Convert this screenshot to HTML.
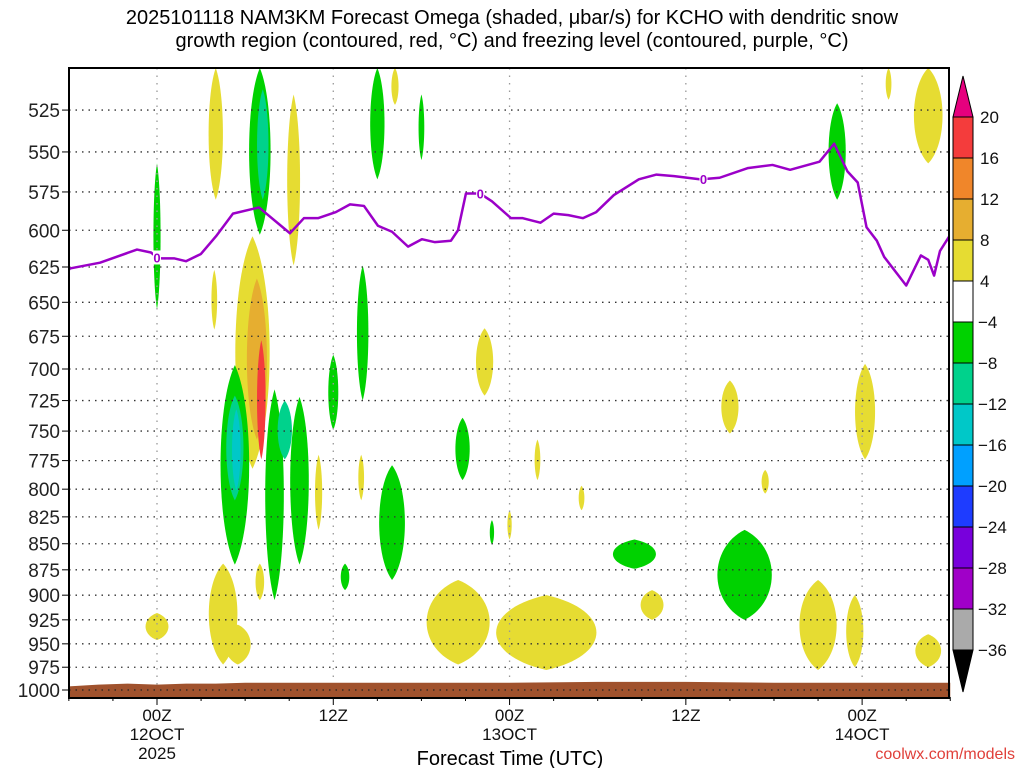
<!DOCTYPE html>
<html><head><meta charset="utf-8"><style>
html,body{margin:0;padding:0;background:#fff;width:1024px;height:768px;overflow:hidden}
svg{display:block;font-family:"Liberation Sans",sans-serif}
</style></head><body>
<svg id="chart" width="1024" height="768" viewBox="0 0 1024 768">
<text x="512" y="24" font-size="20" text-anchor="middle">2025101118 NAM3KM Forecast Omega (shaded, μbar/s) for KCHO with dendritic snow</text>
<text x="512" y="47" font-size="20" text-anchor="middle">growth region (contoured, red, °C) and freezing level (contoured, purple, °C)</text>
<g id="shading"></g>
<g id="grid"></g>
<g id="terrain"></g>
<g id="fzl"></g>
<rect x="69" y="68" width="880" height="630" fill="none" stroke="#000" stroke-width="2"/>
<g id="yaxis"></g>
<g id="xaxis"></g>
<text x="510" y="765" font-size="20" text-anchor="middle">Forecast Time (UTC)</text>
<text x="1015" y="759" font-size="16" fill="#e0403a" text-anchor="end">coolwx.com/models</text>
<g id="cbar"></g>
</svg>
<script>
const NS="http://www.w3.org/2000/svg";
const pressureTicks=[525,550,575,600,625,650,675,700,725,750,775,800,825,850,875,900,925,950,975,1000];
const timeTickHours=[0,12,24,36,48];
const timeTickLabels=[["00Z","12OCT","2025"],["12Z"],["00Z","13OCT"],["12Z"],["00Z","14OCT"]];
const fzlHours=[-6,-5.92,-3.88,-1.36,-0.41,0.07,1.16,1.97,2.99,4.02,5.17,6.94,9.05,10.0,10.96,12.18,13.14,14.09,15.04,16.0,17.09,18.03,18.92,20.01,20.49,21.03,21.99,22.8,24.1,24.9,26.1,27.0,28.0,29.0,29.9,31.1,32.8,34.0,35.2,37.0,38.3,40.2,41.9,43.1,45.1,46.1,47.0,47.7,48.3,49.0,49.5,51.0,52.0,52.5,52.9,53.3,54];
const fzlPress=[627,626,622,613,615,619,619,621,616,604,589,585,602,592,592,588,583,584,597,601,611,606,608,607,600,576,576,581,592,592,595,589,590,592,588,577,567,564,565,567,566,560,558,561,556,545,562,569,598,607,618,638,617,620,631,614,603];
const fzlLabelHours=[0,22,37.2];
const terrainHours=[-6,-4,-2,0,2,4,6,12,24,30,36,42,48,54];
const terrainPress=[996,994,993,994,993,993,992,992,992,991,991,992,992,992];
// omega blobs: center hour, top pressure, bottom pressure, half-width (h), value class
const blobHour=[0,4,7,7.2,9.3,3.9,6.5,6.8,7.1,5.3,5.3,5.4,8.0,9.7,8.7,7.0,4.5,5.5,12,14,15,16.2,18,11,13.9,16,12.8,20.8,22.3,25.9,22.8,24,28.9,32.5,33.7,39,41.4,40,46.3,48.2,52.5,49.8,20.5,26.5,45,47.5,52.5,0,54];
const blobTop=[557,501,501,513,516,627,604,633,678,697,721,732,716,722,725,869,869,930,689,624,501,501,516,770,770,779,869,739,669,757,828,819,797,846,895,709,783,837,521,696,501,501,885,900,885,900,940,918,780];
const blobBot=[655,580,603,580,624,670,782,757,774,870,810,801,905,870,774,905,972,972,749,725,567,522,555,837,810,885,895,792,721,792,851,846,819,874,925,752,804,925,580,774,557,519,972,978,978,975,975,946,805];
const blobHalf=[0.25,0.5,0.75,0.4,0.45,0.2,1.2,0.7,0.3,1.0,0.6,0.3,0.65,0.65,0.5,0.3,1.0,0.9,0.35,0.4,0.5,0.25,0.2,0.25,0.2,0.9,0.3,0.5,0.6,0.2,0.15,0.15,0.2,1.5,0.8,0.6,0.25,1.9,0.6,0.7,1.0,0.2,2.2,3.5,1.3,0.6,0.9,0.8,0.15];
const blobValue=[-6,6,-6,-10,6,6,6,10,18,-6,-10,-14,-6,-6,-10,6,6,6,-6,-6,-6,6,-6,6,6,-6,-6,-6,6,6,-6,6,6,-6,6,6,6,-6,-6,6,6,6,6,6,6,6,6,6,-6];
const cbarLevels=[20,16,12,8,4,-4,-8,-12,-16,-20,-24,-28,-32,-36];
const cbarColors=["#f43c3c","#f0862a","#e6ae30","#e6dc32","#ffffff","#00d200","#00d28c","#00c8c8","#00a0ff","#1e3cff","#7800dc","#a000c8","#aaaaaa"];

const X=h=>157+h*14.69, Y=p=>690-900*Math.log(1000/p);
function el(t,a,parent){const e=document.createElementNS(NS,t);for(const k in a)e.setAttribute(k,a[k]);parent.appendChild(e);return e;}
function color(v){
  if(v>=16)return cbarColors[0]; if(v>=12)return cbarColors[1]; if(v>=8)return cbarColors[2]; if(v>=4)return cbarColors[3];
  if(v>-4)return cbarColors[4]; if(v>-8)return cbarColors[5]; if(v>-12)return cbarColors[6]; if(v>-16)return cbarColors[7]; return cbarColors[8];
}
const clipEl=el("clipPath",{id:"pc"},el("defs",{},document.getElementById("chart")));
el("rect",{x:69,y:68,width:880,height:630},clipEl);
const sh=document.getElementById("shading"); sh.setAttribute("clip-path","url(#pc)");
blobHour.forEach((h,i)=>{
  const cx=X(h), t=Y(blobTop[i]), b=Y(blobBot[i]), w=blobHalf[i]*14.69, m=(t+b)/2;
  const d=`M${cx},${t} C${cx+w*1.3},${t+(m-t)*0.4} ${cx+w*1.3},${b-(b-m)*0.4} ${cx},${b} C${cx-w*1.3},${b-(b-m)*0.4} ${cx-w*1.3},${t+(m-t)*0.4} ${cx},${t}Z`;
  const p=el("path",{d:d,fill:color(blobValue[i])},sh);
  
  
});
const g=document.getElementById("grid");
pressureTicks.forEach(p=>{
  const l=el("line",{x1:69,x2:949,y1:Y(p),y2:Y(p),stroke:"#333","stroke-width":1.3,"stroke-dasharray":"1.5 5"},g);
  
  
});
timeTickHours.forEach(h=>{
  const l=el("line",{x1:X(h),x2:X(h),y1:68,y2:697,stroke:"#999","stroke-width":1.3,"stroke-dasharray":"1.5 6"},g);
  
  
});
const tr=document.getElementById("terrain");
let td=`M${X(terrainHours[0])},697`;
terrainHours.forEach((h,i)=>{td+=` L${X(h)},${Y(terrainPress[i])}`});
td+=` L${X(terrainHours[terrainHours.length-1])},697Z`;
const tp=el("path",{d:td,fill:"#a0522d"},tr);


el("line",{x1:69,x2:949,y1:Y(1000),y2:Y(1000),stroke:"#222","stroke-width":1.3,"stroke-dasharray":"1.5 5"},tr);
const fz=document.getElementById("fzl"); fz.setAttribute("clip-path","url(#pc)");
const fp=el("polyline",{points:fzlHours.map((h,i)=>X(h)+","+Y(fzlPress[i])).join(" "),fill:"none",stroke:"#9b00c8","stroke-width":2.5,"stroke-linejoin":"round"},fz);


fzlLabelHours.forEach(h=>{
  let k=0;while(k<fzlHours.length-1&&fzlHours[k+1]<h)k++;
  const f=(h-fzlHours[k])/(fzlHours[k+1]-fzlHours[k]);const p=fzlPress[k]+f*(fzlPress[k+1]-fzlPress[k]);
  el("rect",{x:X(h)-4,y:Y(p)-7,width:8,height:14,fill:"#fff"},fz);
  const t=el("text",{x:X(h),y:Y(p)+5,"font-size":13,"font-weight":"bold",fill:"#9b00c8","text-anchor":"middle"},fz);
  t.textContent="0";
  
  
});
const ya=document.getElementById("yaxis");
pressureTicks.forEach(p=>{
  el("line",{x1:62,x2:69,y1:Y(p),y2:Y(p),stroke:"#000"},ya);
  const t=el("text",{x:60,y:Y(p)+7,"font-size":19,"text-anchor":"end",fill:"#222"},ya);
  t.textContent=p;
  
  
});
const xa=document.getElementById("xaxis");
for(let h=-6;h<=54;h+=3){el("line",{x1:X(h),x2:X(h),y1:697,y2:h%12===0?705:701,stroke:"#000"},xa);}
timeTickHours.forEach((h,i)=>{
  timeTickLabels[i].forEach((s,j)=>{
    const t=el("text",{x:X(h),y:721+j*19,"font-size":17,"text-anchor":"middle",fill:"#111"},xa);
    t.textContent=s;
    
    
  });
});
const cb=document.getElementById("cbar");
const cbTop=117, seg=41;
el("path",{d:`M953,${cbTop} L963,76 L973,${cbTop}Z`,fill:"#e6007e",stroke:"#000"},cb);
cbarColors.forEach((c,i)=>{
  const r=el("rect",{x:953,y:cbTop+i*seg,width:20,height:seg,fill:c,stroke:"#000"},cb);
  
  
});
el("path",{d:`M953,${cbTop+13*seg} L963,692 L973,${cbTop+13*seg}Z`,fill:"#000",stroke:"#000"},cb);
cbarLevels.forEach((v,i)=>{
  const t=el("text",{x:v<0?978:980,y:cbTop+i*seg+6,"font-size":17,fill:"#111"},cb);
  t.textContent=v<0?"\u2212"+(-v):v;
  
  
});
</script>
</body></html>
